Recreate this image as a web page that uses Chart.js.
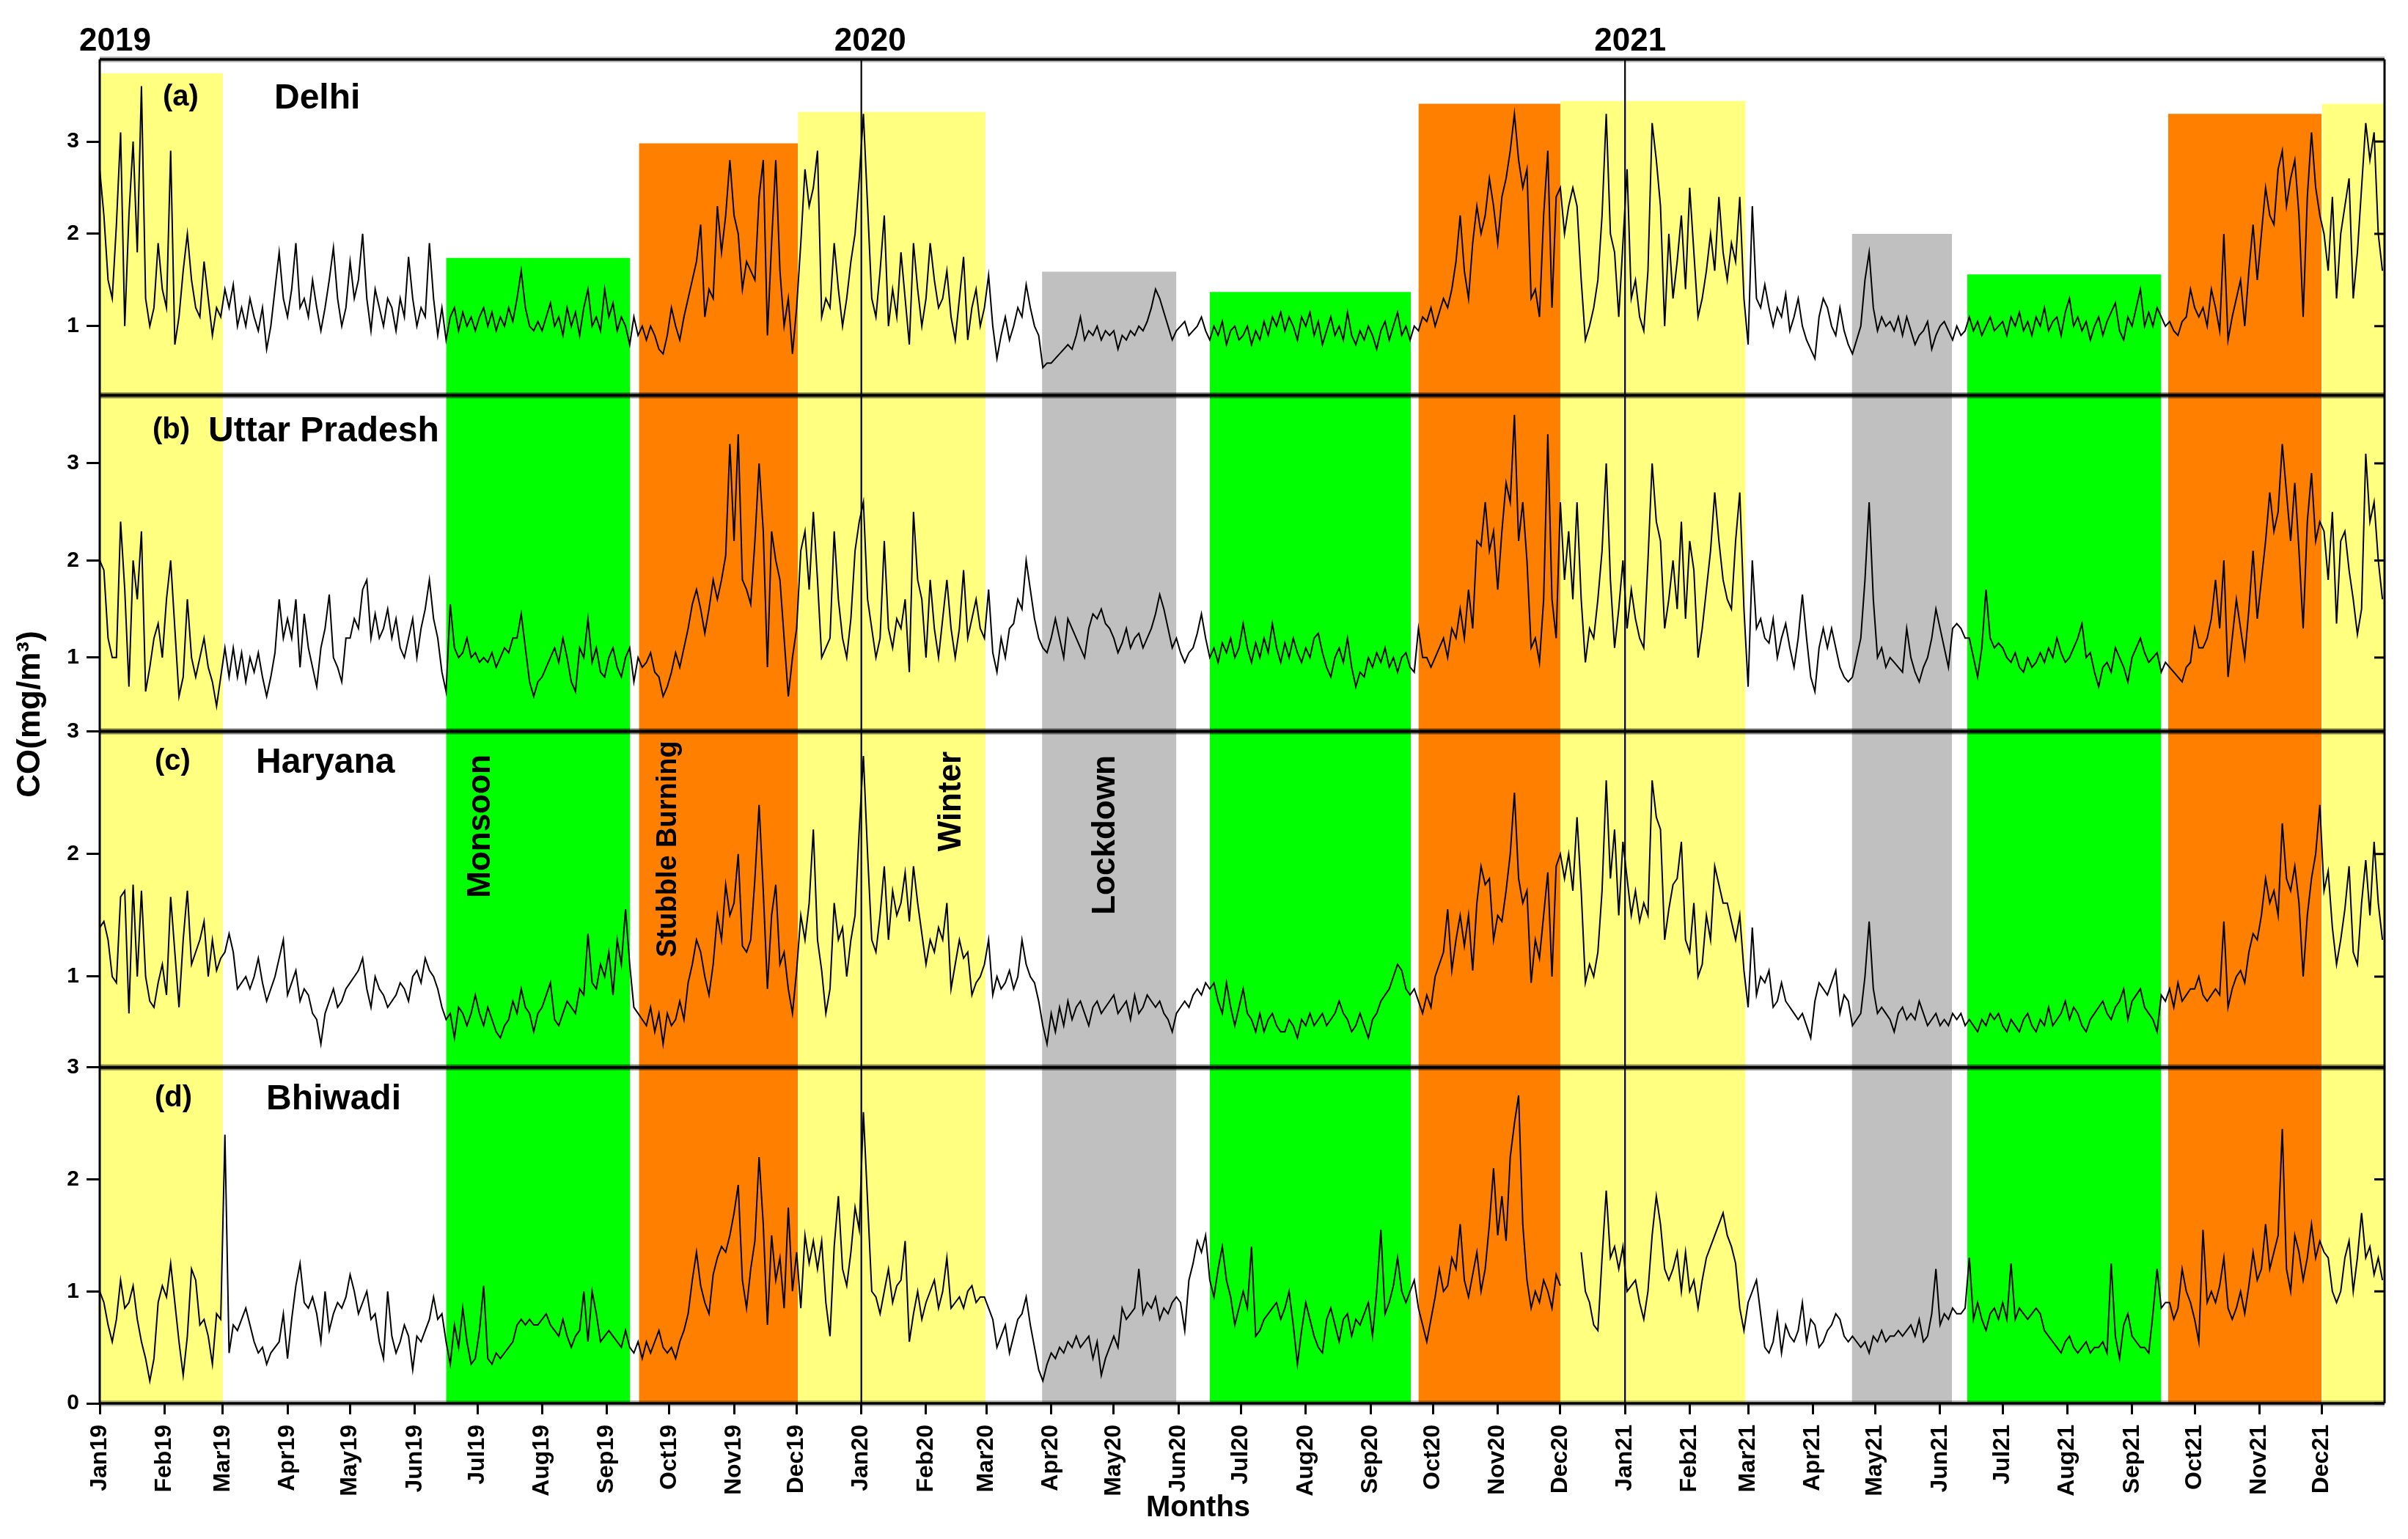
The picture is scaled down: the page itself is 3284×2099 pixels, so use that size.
<!DOCTYPE html>
<html>
<head>
<meta charset="utf-8">
<title>CO time series</title>
<script src="https://cdn.jsdelivr.net/npm/chart.js@4.4.1/dist/chart.umd.min.js"></script>
<style>
  html, body { margin: 0; padding: 0; background: #fff; }
  #wrap { position: relative; width: 3284px; height: 2099px; }
</style>
</head>
<body>
<div id="wrap"><canvas id="chart"></canvas></div>
<script>
// one value every 2 days, starting 1 Jan 2019 (day 0)
const dayStep = 2;

const delhi = [
  2.7,2.2,1.5,1.3,2.1,3.1,1.0,2.2,3.0,1.8,3.6,1.3,1.0,1.2,1.9,1.4,
  1.2,2.9,0.8,1.1,1.6,2.0,1.5,1.2,1.1,1.7,1.3,0.9,1.2,1.1,
  1.4,1.2,1.45,1.0,1.2,1.0,1.3,1.1,0.95,1.2,0.75,1.0,1.4,1.8,1.3,
  1.1,1.4,1.9,1.2,1.3,1.1,1.5,1.2,0.95,1.2,1.5,1.85,1.3,1.0,1.2,
  1.7,1.3,1.5,2.0,1.3,0.95,1.4,1.2,1.0,1.3,1.2,0.95,1.3,1.1,1.75,1.3,
  1.0,1.2,1.1,1.9,1.3,0.9,1.2,0.85,1.1,1.2,0.95,1.15,1.0,1.1,0.95,
  1.1,1.2,1.0,1.15,0.95,1.1,1.0,1.2,1.05,1.3,1.6,1.2,1.0,0.95,1.05,
  0.95,1.1,1.25,1.0,1.1,0.9,1.2,1.0,1.15,0.9,1.2,1.4,1.0,1.1,0.95,1.4,
  1.1,1.25,0.95,1.1,1.0,0.8,1.1,0.9,1.0,0.85,1.0,0.9,0.75,0.7,0.9,
  1.2,1.0,0.85,1.1,1.3,1.5,1.7,2.1,1.1,1.4,1.3,2.3,1.8,2.2,2.8,
  2.2,2.0,1.4,1.7,1.6,1.5,2.4,2.8,0.9,1.9,2.8,1.6,1.0,1.3,0.7,
  1.2,1.9,2.7,2.3,2.5,2.9,1.1,1.3,1.2,1.9,1.4,1.0,1.3,1.7,2.0,2.6,
  3.3,2.3,1.3,1.1,1.6,2.2,1.0,1.4,1.1,1.8,1.3,0.8,1.9,1.4,1.0,
  1.3,1.9,1.5,1.2,1.3,1.6,1.1,0.85,1.3,1.75,0.85,1.2,1.4,1.0,1.2,
  1.55,1.0,0.65,0.9,1.1,0.85,1.0,1.2,1.1,1.45,1.2,1.0,0.9,0.55,0.6,
  0.6,0.65,0.7,0.75,0.8,0.75,0.9,1.1,0.85,0.95,0.9,1.0,0.85,0.95,0.9,
  0.95,0.75,0.9,0.85,0.95,0.9,1.0,0.95,1.05,1.2,1.4,1.3,1.15,1.0,0.85,0.95,
  1.0,1.05,0.9,0.95,1.0,1.1,0.95,0.85,1.0,0.9,1.05,0.8,0.95,1.0,0.85,
  0.9,1.0,0.8,0.95,0.85,1.05,0.9,1.1,1.0,1.15,0.95,1.1,1.0,0.85,1.1,
  1.0,1.15,0.9,1.05,0.8,0.95,1.1,0.9,1.0,0.85,1.15,0.9,0.8,0.95,0.85,1.0,
  0.9,0.75,0.95,1.05,0.85,1.0,1.15,0.9,1.0,0.85,1.0,0.95,1.1,1.05,1.2,
  1.0,1.15,1.3,1.2,1.4,1.7,2.2,1.6,1.3,1.9,2.3,2.0,2.2,2.6,2.3,
  1.9,2.4,2.6,2.9,3.3,2.8,2.5,2.7,1.3,1.4,1.1,2.2,2.9,1.2,2.4,
  2.5,2.0,2.3,2.5,2.3,1.5,0.85,1.0,1.2,1.5,2.2,3.3,2.0,1.8,1.1,1.9,
  2.7,1.3,1.5,1.1,0.95,1.6,3.2,2.8,2.3,1.0,2.0,1.3,1.7,2.2,1.4,
  2.5,1.8,1.1,1.3,1.6,2.0,1.6,2.4,1.8,1.5,1.9,1.7,2.4,1.3,
  0.8,2.3,1.3,1.2,1.45,1.2,1.0,1.2,1.1,1.35,0.95,1.1,1.3,1.0,0.85,0.75,
  0.65,1.1,1.3,1.2,1.0,0.9,1.2,0.95,0.8,0.7,0.85,1.0,1.5,1.8,1.2,
  0.95,1.1,1.0,1.05,0.95,1.1,0.9,1.1,0.95,0.8,0.9,0.95,1.05,0.75,0.9,
  1.0,1.05,0.95,0.85,1.0,0.9,0.95,1.1,0.95,1.05,0.9,1.0,1.1,0.95,1.0,
  1.05,0.9,1.1,1.0,1.15,0.95,1.05,0.9,1.1,1.0,1.2,0.95,1.05,1.1,0.9,1.15,
  1.3,1.0,1.1,0.95,1.05,0.85,1.0,1.1,0.9,1.05,1.15,1.25,0.95,0.85,1.1,
  1.0,1.2,1.4,1.0,1.15,1.0,1.2,1.1,1.0,1.05,0.95,0.9,1.05,1.1,1.4,
  1.2,1.1,1.2,1.0,1.4,1.2,0.95,2.0,0.85,1.1,1.3,1.5,1.0,1.6,2.1,1.5,
  2.0,2.5,2.2,2.1,2.7,2.9,2.3,2.6,2.8,2.2,1.1,2.4,3.1,2.5,2.2,
  2.0,1.6,2.4,1.3,2.0,2.3,2.6,1.3,1.8,2.5,3.2,2.8,3.1,2.0,1.6
];

const uttarPradesh = [
  2.0,1.9,1.2,1.0,1.0,2.4,1.7,0.7,2.0,1.6,2.3,0.65,0.9,1.2,1.35,1.0,
  1.6,2.0,1.3,0.6,0.8,1.6,1.0,0.8,1.0,1.2,0.9,0.75,0.5,0.8,
  1.1,0.8,1.1,0.8,1.05,0.75,1.0,0.85,1.05,0.8,0.6,0.8,1.05,1.6,1.2,
  1.4,1.2,1.6,0.9,1.45,1.1,0.9,0.7,1.1,1.3,1.65,1.0,0.9,0.75,1.2,
  1.2,1.4,1.3,1.7,1.8,1.2,1.45,1.2,1.3,1.5,1.2,1.4,1.1,1.0,1.2,1.4,
  1.0,1.3,1.5,1.8,1.4,1.2,0.85,0.65,1.55,1.1,1.0,1.05,1.2,1.0,1.05,
  0.95,1.0,0.95,1.05,0.9,1.0,1.1,1.05,1.2,1.2,1.45,1.1,0.75,0.6,0.75,
  0.8,0.9,1.0,1.1,0.95,1.2,1.0,0.75,0.65,1.1,1.0,1.4,0.95,1.1,0.85,0.8,
  1.0,1.1,0.9,0.8,1.0,1.1,0.75,1.0,0.9,0.95,1.05,0.85,0.8,0.6,0.7,
  0.85,1.05,0.9,1.1,1.3,1.55,1.7,1.5,1.25,1.5,1.8,1.6,1.8,2.05,3.2,
  2.2,3.3,1.8,1.7,1.55,2.2,3.0,2.3,0.9,2.3,2.0,1.8,1.2,0.6,1.0,
  1.3,2.1,2.3,1.7,2.5,1.8,1.0,1.1,1.2,2.3,1.6,1.2,1.0,1.4,2.1,2.4,
  2.6,1.6,1.3,1.0,1.2,2.2,1.3,1.1,1.4,1.3,1.6,0.85,2.5,1.8,1.6,
  1.0,1.8,1.3,1.0,1.4,1.8,1.3,1.0,1.3,1.9,1.2,1.4,1.6,1.3,1.2,
  1.7,1.05,0.85,1.2,1.0,1.3,1.35,1.6,1.5,2.0,1.7,1.4,1.2,1.1,1.05,
  1.2,1.4,1.2,1.0,1.4,1.3,1.2,1.1,1.0,1.3,1.45,1.4,1.5,1.35,1.3,
  1.2,1.05,1.15,1.3,1.1,1.2,1.25,1.1,1.2,1.3,1.45,1.65,1.5,1.3,1.1,1.2,
  1.05,0.95,1.05,1.1,1.25,1.45,1.2,1.0,1.1,0.95,1.15,1.05,1.2,1.0,1.1,
  1.35,1.1,0.95,1.15,1.0,1.2,1.05,1.35,1.1,0.95,1.15,1.0,1.2,1.05,0.95,
  1.1,1.0,1.2,1.25,1.05,0.9,0.8,1.0,1.1,0.95,1.2,0.9,0.7,0.85,0.8,1.0,
  0.9,1.05,0.95,1.1,0.9,1.0,0.85,1.0,1.05,0.9,0.85,1.3,1.0,1.0,0.9,
  1.0,1.1,1.2,1.0,1.3,1.2,1.5,1.2,1.7,1.3,2.2,2.15,2.6,2.1,2.3,
  1.7,2.3,2.8,2.6,3.5,2.2,2.6,2.0,1.1,1.2,0.95,1.6,3.3,1.6,1.2,
  2.6,1.8,2.3,1.6,2.6,1.6,0.95,1.3,1.2,1.6,2.1,3.0,1.8,1.1,1.5,2.0,
  1.3,1.7,1.4,1.2,1.1,2.0,3.0,2.4,2.2,1.3,1.6,2.0,1.5,2.4,1.4,
  2.2,1.9,1.0,1.3,1.7,2.1,2.7,2.2,1.8,1.6,1.5,2.2,2.7,1.5,
  0.7,2.0,1.3,1.4,1.2,1.15,1.4,1.0,1.2,1.35,1.1,0.9,1.2,1.65,1.2,0.8,
  0.65,1.1,1.3,1.1,1.3,1.1,0.9,0.8,0.75,0.8,1.0,1.2,1.8,2.6,1.6,
  1.0,1.1,0.9,1.0,0.95,0.9,0.85,1.3,1.0,0.85,0.75,0.9,1.0,1.2,1.5,
  1.3,1.1,0.9,1.3,1.35,1.3,1.2,1.2,1.0,0.8,1.1,1.7,1.2,1.1,1.15,
  1.1,1.0,0.95,1.05,0.9,0.85,1.0,0.9,0.95,1.05,0.95,1.1,1.0,1.2,1.05,0.95,
  1.0,1.1,1.2,1.35,1.0,1.05,0.85,0.7,0.9,0.95,0.85,1.1,1.0,0.9,0.75,
  1.0,1.1,1.2,1.05,0.95,1.0,1.05,0.85,0.95,0.9,0.85,0.8,0.75,0.9,0.95,
  1.3,1.1,1.1,1.2,1.4,1.8,1.3,2.0,0.8,1.2,1.6,1.3,1.0,1.5,2.1,1.4,
  1.8,2.2,2.7,2.3,2.5,3.2,2.7,2.2,2.8,2.1,1.3,2.4,2.9,2.2,2.4,
  2.3,1.8,2.5,1.35,2.2,2.3,1.9,1.6,1.24,1.5,3.1,2.4,2.6,2.0,1.6
];

const haryana = [
  1.4,1.45,1.3,1.0,0.95,1.65,1.7,0.7,1.75,1.0,1.7,1.0,0.8,0.75,0.95,1.1,
  0.85,1.65,1.2,0.75,1.3,1.7,1.1,1.2,1.3,1.45,1.0,1.3,1.05,1.15,
  1.2,1.35,1.2,0.9,0.95,1.0,0.9,1.0,1.15,0.95,0.8,0.9,1.0,1.15,1.3,
  0.85,0.95,1.05,0.8,0.9,0.85,0.7,0.65,0.45,0.7,0.8,0.9,0.75,0.8,0.9,
  0.95,1.0,1.05,1.15,0.9,0.75,1.0,0.9,0.85,0.75,0.8,0.85,0.95,0.9,0.8,1.0,
  1.05,0.95,1.15,1.05,1.0,0.9,0.75,0.65,0.7,0.5,0.75,0.7,0.6,0.7,0.85,
  0.7,0.6,0.75,0.65,0.55,0.5,0.6,0.65,0.8,0.7,0.9,0.75,0.7,0.55,0.7,
  0.75,0.85,0.95,0.65,0.6,0.7,0.8,0.75,0.7,0.9,0.85,1.35,0.95,0.9,1.1,1.0,
  1.2,0.85,1.3,1.1,1.55,1.1,0.75,0.7,0.65,0.6,0.75,0.55,0.7,0.45,0.7,
  0.6,0.65,0.8,0.65,0.95,1.1,1.3,1.2,1.0,0.85,1.1,1.5,1.3,1.75,1.5,
  1.6,2.0,1.25,1.2,1.3,1.8,2.4,1.7,0.9,1.5,1.75,1.1,1.2,0.9,0.7,
  1.05,1.5,1.3,1.6,2.2,1.3,1.05,0.7,0.9,1.6,1.3,1.4,1.0,1.3,1.5,2.2,
  2.8,2.0,1.3,1.2,1.5,1.9,1.3,1.7,1.5,1.6,1.85,1.45,1.9,1.6,1.35,
  1.1,1.3,1.2,1.4,1.3,1.6,0.9,1.1,1.3,1.15,1.2,0.85,0.95,1.0,1.1,
  1.3,0.85,1.0,0.9,0.95,1.05,0.9,1.0,1.3,1.1,1.0,0.95,0.8,0.6,0.45,
  0.7,0.55,0.75,0.6,0.8,0.65,0.75,0.8,0.7,0.6,0.75,0.8,0.7,0.75,0.8,
  0.85,0.7,0.75,0.8,0.65,0.85,0.7,0.75,0.85,0.8,0.75,0.8,0.7,0.65,0.55,0.7,
  0.75,0.8,0.75,0.85,0.9,0.85,0.95,0.9,0.95,0.8,0.7,0.95,0.75,0.6,0.75,
  0.9,0.7,0.65,0.55,0.7,0.55,0.65,0.7,0.6,0.55,0.55,0.65,0.6,0.5,0.65,
  0.6,0.7,0.6,0.65,0.7,0.6,0.65,0.7,0.8,0.7,0.65,0.55,0.6,0.7,0.6,0.5,
  0.65,0.7,0.8,0.85,0.9,1.0,1.1,1.05,0.9,0.85,0.9,0.8,0.7,0.85,0.75,
  1.0,1.1,1.2,1.55,1.05,1.3,1.5,1.25,1.5,1.05,1.6,1.9,1.75,1.8,1.3,
  1.5,1.45,1.7,2.0,2.5,1.8,1.6,1.7,0.95,1.3,1.15,1.5,1.85,1.0,1.9,
  2.0,1.8,2.0,1.7,2.3,1.7,0.95,1.1,1.0,1.2,1.7,2.6,1.8,2.2,1.5,2.1,
  1.8,1.5,1.7,1.45,1.6,1.5,2.6,2.3,2.2,1.3,1.55,1.75,1.8,2.1,1.3,
  1.2,1.6,1.0,1.1,1.5,1.3,1.9,1.75,1.6,1.6,1.45,1.3,1.5,1.05,
  0.75,1.4,0.85,1.0,0.95,1.05,0.75,0.8,0.95,0.8,0.75,0.7,0.65,0.7,0.6,0.5,
  0.8,0.95,0.9,0.85,0.95,1.05,0.7,0.85,0.8,0.6,0.65,0.7,1.0,1.45,0.9,
  0.7,0.75,0.7,0.65,0.55,0.7,0.75,0.65,0.7,0.65,0.8,0.7,0.6,0.65,0.7,
  0.6,0.65,0.6,0.7,0.65,0.7,0.6,0.65,0.6,0.55,0.65,0.6,0.7,0.65,0.7,
  0.6,0.55,0.65,0.6,0.55,0.65,0.7,0.6,0.55,0.65,0.6,0.75,0.6,0.65,0.7,0.8,
  0.65,0.75,0.7,0.6,0.55,0.65,0.7,0.75,0.8,0.7,0.65,0.75,0.8,0.9,0.65,
  0.8,0.85,0.9,0.75,0.7,0.65,0.55,0.85,0.8,0.9,0.75,0.95,0.8,0.85,0.9,
  0.9,1.0,0.85,0.8,0.85,0.9,0.85,1.45,0.75,0.9,1.0,1.05,0.95,1.2,1.35,1.3,
  1.5,1.8,1.6,1.7,1.5,2.25,1.8,1.7,1.9,1.6,1.0,1.5,1.8,2.0,2.4,
  1.7,1.86,1.4,1.1,1.3,1.55,1.9,1.2,1.1,1.6,1.95,1.5,2.1,1.6,1.3
];

const bhiwadi = [
  1.0,0.9,0.7,0.55,0.75,1.1,0.85,0.9,1.05,0.75,0.55,0.4,0.2,0.4,0.9,1.05,
  0.95,1.25,0.9,0.55,0.25,0.6,1.2,1.1,0.7,0.75,0.6,0.35,0.8,0.75,
  2.4,0.45,0.7,0.65,0.75,0.85,0.7,0.55,0.45,0.5,0.35,0.45,0.5,0.55,0.8,
  0.4,0.75,1.05,1.25,0.9,0.85,0.95,0.8,0.55,1.0,0.65,0.8,0.9,0.85,0.95,
  1.15,1.0,0.8,0.9,1.0,0.75,0.8,0.55,0.4,1.0,0.6,0.45,0.55,0.7,0.6,0.3,
  0.6,0.55,0.65,0.75,0.95,0.75,0.8,0.55,0.35,0.7,0.5,0.85,0.55,0.35,0.4,
  0.65,1.05,0.4,0.35,0.45,0.4,0.45,0.5,0.55,0.7,0.75,0.7,0.75,0.7,0.7,
  0.75,0.8,0.7,0.65,0.6,0.75,0.6,0.5,0.6,0.65,1.0,0.55,1.0,0.8,0.55,0.6,
  0.65,0.6,0.55,0.5,0.65,0.5,0.45,0.55,0.4,0.55,0.45,0.55,0.65,0.5,0.45,
  0.5,0.4,0.55,0.65,0.8,1.1,1.35,1.05,0.9,0.8,1.15,1.3,1.4,1.35,1.5,
  1.7,1.95,1.1,0.85,1.2,1.45,2.2,1.6,0.7,1.5,1.1,1.3,0.85,1.75,1.0,
  1.35,0.85,1.5,1.25,1.45,1.2,1.45,0.9,0.6,1.4,1.85,1.2,1.05,1.35,1.75,1.55,
  2.6,1.8,1.0,0.95,0.8,1.0,1.2,0.9,1.05,1.1,1.45,0.55,0.8,1.0,0.75,
  0.9,1.0,1.1,0.85,1.0,1.3,0.85,0.9,0.95,0.85,1.0,1.05,0.9,0.95,0.95,
  0.85,0.75,0.5,0.6,0.7,0.45,0.6,0.75,0.8,0.95,0.7,0.5,0.3,0.2,0.35,
  0.45,0.4,0.5,0.45,0.55,0.5,0.6,0.5,0.55,0.6,0.4,0.55,0.25,0.4,0.5,
  0.6,0.5,0.85,0.75,0.8,0.85,1.2,0.8,0.9,0.85,0.95,0.75,0.85,0.8,0.9,0.95,
  0.9,0.65,1.1,1.25,1.45,1.35,1.5,1.1,0.95,1.2,1.4,1.1,0.95,0.7,0.85,
  1.0,0.85,1.4,0.6,0.65,0.75,0.8,0.85,0.9,0.75,0.85,1.0,0.7,0.35,0.65,
  0.9,0.75,0.6,0.5,0.45,0.75,0.85,0.7,0.55,0.75,0.8,0.6,0.75,0.7,0.8,0.9,
  0.6,1.0,1.55,0.8,0.9,1.05,1.3,1.0,0.9,1.0,1.1,0.85,0.7,0.55,0.75,
  0.95,1.2,1.0,1.05,1.3,1.2,1.6,1.1,0.95,1.15,1.35,1.0,1.2,1.6,2.1,
  1.5,1.85,1.45,2.2,2.5,2.75,1.6,1.1,0.85,1.0,0.9,1.1,1.0,0.85,1.15,
  1.05,null,null,null,null,1.35,1.0,0.9,0.7,0.65,1.3,1.9,1.3,1.4,1.2,1.4,
  1.0,1.05,1.1,0.9,0.75,1.0,1.5,1.85,1.6,1.2,1.1,1.2,1.35,1.0,1.35,
  1.0,1.1,0.85,1.1,1.3,1.4,1.5,1.6,1.7,1.5,1.4,1.25,0.85,0.65,
  0.9,1.0,1.1,0.8,0.5,0.45,0.55,0.8,0.45,0.7,0.6,0.55,0.65,0.9,0.55,0.75,
  0.7,0.5,0.55,0.65,0.7,0.8,0.75,0.6,0.55,0.6,0.55,0.5,0.55,0.45,0.6,
  0.55,0.65,0.55,0.6,0.6,0.65,0.6,0.65,0.7,0.6,0.75,0.55,0.6,0.8,1.2,
  0.7,0.8,0.75,0.85,0.8,0.8,0.85,1.3,0.75,0.9,0.75,0.65,0.8,0.85,0.75,
  0.9,0.75,1.25,0.75,0.85,0.8,0.75,0.8,0.85,0.8,0.65,0.6,0.55,0.5,0.45,0.55,
  0.6,0.5,0.45,0.5,0.55,0.45,0.5,0.5,0.55,0.45,1.25,0.6,0.4,0.7,0.8,
  0.6,0.55,0.5,0.5,0.45,0.8,1.2,0.85,0.9,0.9,0.75,0.85,1.2,1.0,0.9,
  0.75,0.55,1.55,0.9,1.0,0.9,1.05,1.3,0.85,0.75,0.85,1.0,0.8,1.05,1.35,1.1,
  1.2,1.6,1.2,1.35,1.5,2.45,1.2,1.0,1.5,1.35,1.1,1.3,1.6,1.3,1.45,
  1.35,1.3,1.0,0.9,1.0,1.3,1.45,1.0,1.3,1.7,1.3,1.4,1.15,1.3,1.1
];

const monthLabels = [
  'Jan19','Feb19','Mar19','Apr19','May19','Jun19','Jul19','Aug19','Sep19','Oct19','Nov19','Dec19',
  'Jan20','Feb20','Mar20','Apr20','May20','Jun20','Jul20','Aug20','Sep20','Oct20','Nov20','Dec20',
  'Jan21','Feb21','Mar21','Apr21','May21','Jun21','Jul21','Aug21','Sep21','Oct21','Nov21','Dec21'
];
const yearLabels = ['2019', '2020', '2021'];
const yearStarts = [0, 365, 731];

// season periods, in days since 1 Jan 2019
const bandStart = [0, 166, 258.4, 334.6, 451.6, 532, 632, 700, 839.7, 895, 991.3, 1065];
const bandEnd = [59.1, 254.2, 334.6, 424.5, 516, 628.4, 700, 788.8, 887.7, 988, 1064.8, 1095];
const bandSeason = ['winter','monsoon','stubble','winter','lockdown','monsoon','stubble','winter','lockdown','monsoon','stubble','winter'];
// in the Delhi panel each period is drawn only up to its own level
const delhiBandTop = [3.74, 1.74, 2.98, 3.32, 1.59, 1.37, 3.41, 3.44, 2.0, 1.56, 3.30, 3.41];

const panelNames = ['Delhi', 'Uttar Pradesh', 'Haryana', 'Bhiwadi'];
const panelTags = ['(a)', '(b)', '(c)', '(d)'];
const panelTicks = [[1, 2, 3], [1, 2, 3], [1, 2, 3], [0, 1, 2, 3]];
const seasonNames = ['Monsoon', 'Stubble Burning', 'Winter', 'Lockdown'];

const seasonColors = { winter: '#ffff80', stubble: '#ff8000', monsoon: '#00ff00', lockdown: '#c0c0c0' };
const panelMin = [0.25, 0.24, 0.26, 0];
const panelMax = [3.89, 3.70, 3.0, 3.0];
const panelIds = ['yA', 'yB', 'yC', 'yD'];
const series = [delhi, uttarPradesh, haryana, bhiwadi];

const FONT = "'Liberation Sans', Arial, sans-serif";
Chart.defaults.font.family = FONT;
Chart.defaults.color = '#000';

// first day of every month, counted from 1 Jan 2019
const monthStarts = monthLabels.map((_, i) => (Date.UTC(2019, i, 1) - Date.UTC(2019, 0, 1)) / 86400000);

const toPoints = (values) => values.map((v, i) => ({ x: i * dayStep, y: v }));

const datasets = [];
panelIds.forEach((id, p) => {
    bandStart.forEach((start, j) => {
        const top = p === 0 ? delhiBandTop[j] : panelMax[p];
        datasets.push({
            type: 'line',
            data: [{ x: start, y: top }, { x: bandEnd[j], y: top }],
            yAxisID: id,
            borderColor: 'rgba(0,0,0,0)',
            borderWidth: 0,
            backgroundColor: seasonColors[bandSeason[j]],
            pointRadius: 0,
            fill: 'start',
            order: 2
        });
    });
    datasets.push({
        type: 'line',
        label: panelNames[p],
        data: toPoints(series[p]),
        yAxisID: id,
        borderColor: '#000',
        borderWidth: 2,
        pointRadius: 0,
        fill: false,
        spanGaps: false,
        tension: 0,
        order: 1
    });
});

const scales = {
    x: {
        type: 'linear',
        min: 0,
        max: 1095,
        afterBuildTicks: (s) => { s.ticks = monthStarts.map(v => ({ value: v })); },
        afterFit: (s) => { s.height = 185; },
        ticks: {
            autoSkip: false,
            maxRotation: 90,
            minRotation: 90,
            padding: 14,
            color: '#000',
            font: { size: 32, weight: 'bold' },
            callback: (v, i) => monthLabels[i]
        },
        grid: { drawOnChartArea: false, drawTicks: true, tickLength: 15, tickWidth: 3, tickColor: '#000' },
        border: { display: false }
    }
};
panelIds.forEach((id, p) => {
    scales[id] = {
        type: 'linear',
        position: 'left',
        stack: 'co',
        stackWeight: 1,
        weight: 4 - p,
        min: panelMin[p],
        max: panelMax[p],
        afterBuildTicks: (s) => { s.ticks = panelTicks[p].map(v => ({ value: v })); },
        afterFit: (s) => { s.width = 136; },
        ticks: { padding: 10, color: '#000', font: { size: 30, weight: 'bold' }, callback: v => String(v) },
        grid: { drawOnChartArea: false, drawTicks: true, tickLength: 18, tickWidth: 3, tickColor: '#000' },
        border: { display: false }
    };
});

// frames, year lines and the free texts of the figure
const decorPlugin = {
    id: 'decor',
    afterDatasetsDraw(chart) {
        const { ctx, chartArea: a, scales: sc } = chart;
        ctx.save();
        ctx.strokeStyle = '#000';
        ctx.lineWidth = 2.2;
        yearStarts.slice(1).forEach(d => {
            const px = sc.x.getPixelForValue(d);
            ctx.beginPath();
            ctx.moveTo(px, a.top);
            ctx.lineTo(px, a.bottom);
            ctx.stroke();
        });
        panelIds.forEach((id, p) => {
            const s = sc[id];
            [s.top, s.bottom].forEach(y => {
                ctx.strokeStyle = 'rgba(0,0,0,0.28)';
                ctx.lineWidth = 8;
                ctx.beginPath(); ctx.moveTo(a.left, y); ctx.lineTo(a.right, y); ctx.stroke();
                ctx.strokeStyle = '#000';
                ctx.lineWidth = 3.5;
                ctx.beginPath(); ctx.moveTo(a.left, y); ctx.lineTo(a.right, y); ctx.stroke();
            });
            ctx.lineWidth = 3;
            panelTicks[p].forEach(v => {
                const y = s.getPixelForValue(v);
                ctx.beginPath(); ctx.moveTo(a.right - 14, y); ctx.lineTo(a.right, y); ctx.stroke();
            });
        });
        ctx.strokeStyle = '#000';
        ctx.lineWidth = 3;
        [a.left, a.right].forEach(x => {
            ctx.beginPath(); ctx.moveTo(x, a.top); ctx.lineTo(x, a.bottom); ctx.stroke();
        });
        ctx.restore();
    },
    afterDraw(chart) {
        const { ctx, scales: sc } = chart;
        ctx.save();
        ctx.fillStyle = '#000';

        // years above the plot
        const yearDx = [21, 12, 7];
        ctx.font = `bold 44px ${FONT}`;
        ctx.textAlign = 'center';
        ctx.textBaseline = 'alphabetic';
        yearLabels.forEach((t, i) => {
            ctx.fillText(t, sc.x.getPixelForValue(yearStarts[i]) + yearDx[i], 69);
        });

        // panel tags and names
        const tagX = [222, 208, 211, 211];
        const nameX = [374, 284, 349, 363];
        const textDy = [52, 48, 41, 42];
        ctx.textAlign = 'left';
        ctx.textBaseline = 'middle';
        panelIds.forEach((id, p) => {
            const y = sc[id].top + textDy[p];
            ctx.font = `bold 40px ${FONT}`;
            ctx.fillText(panelTags[p], tagX[p], y);
            ctx.font = `bold 48px ${FONT}`;
            ctx.fillText(panelNames[p], nameX[p], y + 2);
        });

        // season names, written upwards in the Haryana panel
        const seasonPos = [[656, 1127, 44], [912, 1158, 38], [1298, 1093, 44], [1508, 1139, 44]];
        ctx.textAlign = 'center';
        seasonNames.forEach((t, i) => {
            const [x, y, size] = seasonPos[i];
            ctx.save();
            ctx.translate(x, y);
            ctx.rotate(-Math.PI / 2);
            ctx.font = `bold ${size}px ${FONT}`;
            ctx.fillText(t, 0, 0);
            ctx.restore();
        });

        // axis titles
        ctx.save();
        ctx.translate(42, 974);
        ctx.rotate(-Math.PI / 2);
        ctx.font = `bold 44px ${FONT}`;
        ctx.fillText('CO(mg/m\u00B3)', 0, 0);
        ctx.restore();

        ctx.font = `bold 40px ${FONT}`;
        ctx.fillText('Months', 1634, 2057);
        ctx.restore();
    }
};

new Chart(document.getElementById('chart'), {
    type: 'line',
    data: { datasets: datasets },
    options: {
        responsive: true,
        maintainAspectRatio: false,
        animation: false,
        layout: { padding: { top: 81, right: 32, bottom: 0, left: 0 } },
        plugins: {
            legend: { display: false },
            tooltip: { enabled: false },
            title: { display: false }
        },
        scales: scales
    },
    plugins: [decorPlugin]
});
</script>
</body>
</html>
